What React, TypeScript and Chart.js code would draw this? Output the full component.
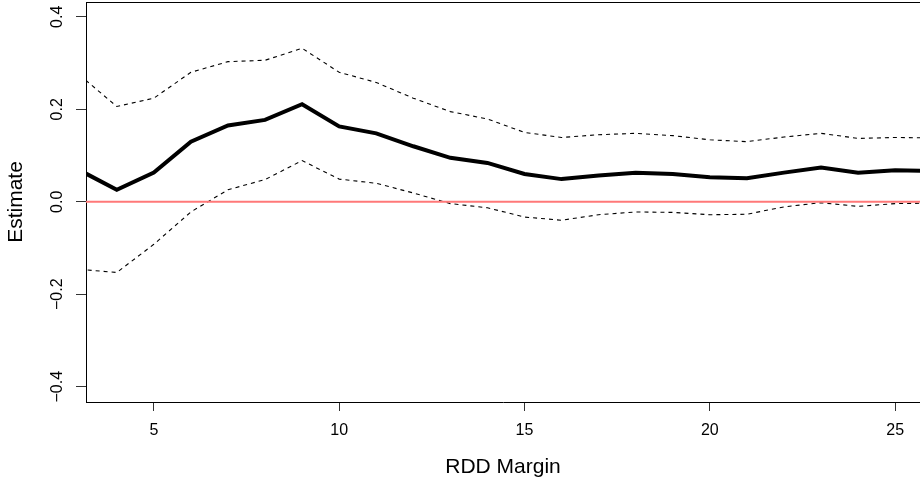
import React, { useEffect, useRef } from "react";
import { Chart, registerables } from "chart.js";

Chart.register(...registerables);

// ---- data ----
const margins = [3, 4, 5, 6, 7, 8, 9, 10, 11, 12, 13, 14, 15, 16, 17, 18, 19, 20, 21, 22, 23, 24, 25, 26];
const estimate = [0.068, 0.026, 0.063, 0.130, 0.165, 0.177, 0.211, 0.163, 0.148, 0.120, 0.095, 0.084, 0.060, 0.049, 0.057, 0.063, 0.060, 0.053, 0.051, 0.063, 0.074, 0.063, 0.068, 0.067];
const upper = [0.274, 0.206, 0.224, 0.280, 0.303, 0.306, 0.332, 0.280, 0.258, 0.224, 0.195, 0.179, 0.150, 0.139, 0.145, 0.148, 0.143, 0.134, 0.130, 0.140, 0.148, 0.137, 0.139, 0.138];
const lower = [-0.146, -0.153, -0.092, -0.022, 0.026, 0.048, 0.089, 0.049, 0.040, 0.019, -0.004, -0.013, -0.033, -0.040, -0.028, -0.022, -0.023, -0.028, -0.027, -0.011, -0.002, -0.010, -0.004, -0.003];
const refLineX = [3, 26];
const refLineY = [0, 0];

const xTicks = [5, 10, 15, 20, 25];
const xTickLabels = ["5", "10", "15", "20", "25"];
const yTicks = [-0.4, -0.2, 0, 0.2, 0.4];
const yTickLabels = ["\u22120.4", "\u22120.2", "0.0", "0.2", "0.4"];

const xTitle = "RDD Margin";
const yTitle = "Estimate";

const FONT = "'Liberation Sans', Arial, Helvetica, sans-serif";

export default function App() {
  const ref = useRef<HTMLCanvasElement | null>(null);

  useEffect(() => {
    const canvas = ref.current;
    if (!canvas) return;
    document.body.style.margin = "0";

    const pts = (ys: number[]) => margins.map((x, i) => ({ x, y: ys[i] }));

    const framePlugin = {
      id: "frame",
      afterDraw(chart: any) {
        const { ctx, chartArea } = chart;
        const ys = chart.scales.y;
        ctx.save();
        // top border
        ctx.strokeStyle = "#000";
        ctx.lineWidth = 1;
        ctx.beginPath();
        ctx.moveTo(chartArea.left, chartArea.top + 0.5);
        ctx.lineTo(chartArea.right, chartArea.top + 0.5);
        ctx.stroke();
        // rotated y tick labels
        ctx.fillStyle = "#000";
        ctx.font = `16px ${FONT}`;
        ctx.textAlign = "center";
        ctx.textBaseline = "alphabetic";
        yTicks.forEach((v, i) => {
          const py = ys.getPixelForValue(v);
          ctx.save();
          ctx.translate(62, py);
          ctx.rotate(-Math.PI / 2);
          ctx.fillText(yTickLabels[i], 0, 0);
          ctx.restore();
        });
        ctx.restore();
      },
    };

    const chart = new Chart(canvas, {
      type: "line",
      data: {
        datasets: [
          {
            label: "zero",
            data: refLineX.map((x, i) => ({ x, y: refLineY[i] })),
            borderColor: "rgb(255,120,120)",
            borderWidth: 2,
            pointRadius: 0,
            clip: 0,
          },
          {
            label: "estimate",
            data: pts(estimate),
            borderColor: "#000",
            borderWidth: 4,
            pointRadius: 0,
            tension: 0,
            clip: 0,
          },
          {
            label: "upper",
            data: pts(upper),
            borderColor: "#000",
            borderWidth: 1.1,
            borderDash: [4, 4],
            pointRadius: 0,
            tension: 0,
            clip: 0,
          },
          {
            label: "lower",
            data: pts(lower),
            borderColor: "#000",
            borderWidth: 1.1,
            borderDash: [4, 4],
            pointRadius: 0,
            tension: 0,
            clip: 0,
          },
        ],
      },
      options: {
        responsive: false,
        animation: false,
        devicePixelRatio: 1,
        layout: { padding: { top: 2, left: 0, right: 0, bottom: 0 } },
        plugins: {
          legend: { display: false },
          tooltip: { enabled: false },
        },
        scales: {
          x: {
            type: "linear",
            min: 3.17,
            max: 25.67,
            afterBuildTicks: (s: any) => {
              s.ticks = xTicks.map((v) => ({ value: v }));
            },
            afterFit: (s: any) => {
              s.height = 83;
            },
            ticks: {
              autoSkip: false,
              maxRotation: 0,
              includeBounds: false,
              padding: 10,
              color: "#000",
              font: { family: FONT, size: 16 },
              callback: (v: any) => {
                const i = xTicks.indexOf(Number(v));
                return i >= 0 ? xTickLabels[i] : "";
              },
            },
            grid: {
              drawOnChartArea: false,
              drawTicks: true,
              tickLength: 9,
              color: "#333",
              lineWidth: 1,
            },
            border: { display: true, color: "#000", width: 1 },
            title: {
              display: true,
              text: xTitle,
              color: "#000",
              font: { family: FONT, size: 21 },
              padding: { top: 0, bottom: 5 },
            },
          },
          y: {
            type: "linear",
            min: -0.433,
            max: 0.432,
            afterBuildTicks: (s: any) => {
              s.ticks = yTicks.map((v) => ({ value: v }));
            },
            afterFit: (s: any) => {
              s.width = 86;
            },
            ticks: { display: false },
            grid: {
              drawOnChartArea: false,
              drawTicks: true,
              tickLength: 10,
              color: "#333",
              lineWidth: 1,
            },
            border: { display: true, color: "#000", width: 1 },
            title: {
              display: true,
              text: yTitle,
              color: "#000",
              font: { family: FONT, size: 21 },
              padding: { top: 4, bottom: 0 },
            },
          },
        },
      },
      plugins: [framePlugin],
    } as any);

    return () => chart.destroy();
  }, []);

  return (
    <div style={{ position: "absolute", left: 0, top: 0, width: 920, height: 485, background: "#fff" }}>
      <canvas ref={ref} width={920} height={485} style={{ width: 920, height: 485, display: "block" }} />
    </div>
  );
}
